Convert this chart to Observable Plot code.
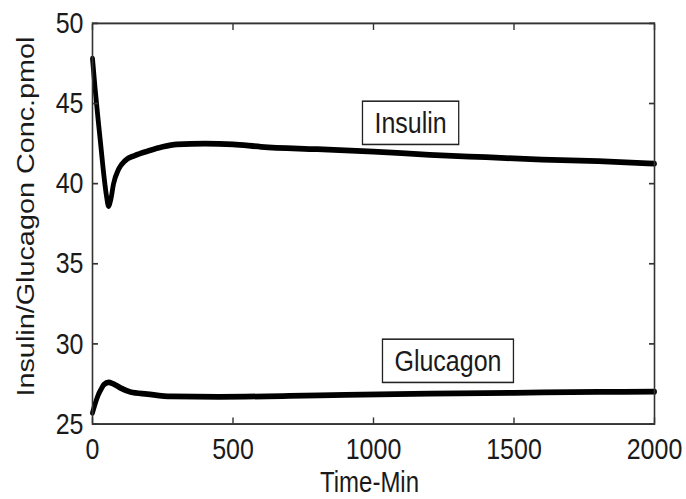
<!DOCTYPE html>
<html>
<head>
<meta charset="utf-8">
<script src="https://cdn.jsdelivr.net/npm/d3@7"></script>
<script src="https://cdn.jsdelivr.net/npm/@observablehq/plot@0.6"></script>
<style>
  html, body { margin: 0; padding: 0; background: #fff; }
  #chart { width: 686px; height: 499px; overflow: hidden; }
</style>
</head>
<body>
<div id="chart"></div>
<script>
// ---- data ----
const insulinTime = [0, 10, 20, 30, 40, 50, 57, 65, 75, 93, 117, 150, 200, 250, 300, 400, 500, 600, 800, 1000, 1200, 1400, 1600, 1800, 2000];
const insulinConc = [47.8, 45.8, 44.0, 42.3, 40.6, 39.2, 38.6, 39.0, 40.0, 40.9, 41.45, 41.75, 42.05, 42.3, 42.45, 42.5, 42.45, 42.3, 42.15, 42.0, 41.8, 41.65, 41.5, 41.4, 41.25];

const glucagonTime = [0, 10, 20, 30, 40, 57, 75, 100, 135, 195, 280, 450, 700, 900, 1200, 1500, 1800, 2000];
const glucagonConc = [25.7, 26.3, 26.8, 27.15, 27.45, 27.6, 27.5, 27.25, 27.0, 26.87, 26.72, 26.7, 26.75, 26.82, 26.9, 26.95, 27.0, 27.02];

const xTicks = [0, 500, 1000, 1500, 2000];
const yTicks = [25, 30, 35, 40, 45, 50];

const labelNames = ["Insulin", "Glucagon"];
const labelTime = [1132, 1265];
const labelConc = [43.75, 28.9];

const xLabel = "Time-Min";
const yLabel = "Insulin/Glucagon Conc.pmol";

// ---- tables ----
const insulinData = insulinTime.map((t, i) => ({t, v: insulinConc[i]}));
const glucagonData = glucagonTime.map((t, i) => ({t, v: glucagonConc[i]}));
const annotations = labelNames.map((name, i) => ({name, t: labelTime[i], v: labelConc[i]}));

// the reference is vertically stretched by ~1.2; draw at 416 and stretch to 499
const W = 686, H = 416, OUT_H = 499;
const font = "'Liberation Sans', Arial, Helvetica, sans-serif";

const svg = Plot.plot({
  width: W,
  height: H,
  marginLeft: 92,
  marginRight: 32,
  marginTop: 19,
  marginBottom: 63,
  x: {domain: [0, 2000]},
  y: {domain: [25, 50]},
  style: {fontFamily: font, fontSize: "25px", color: "#1a1a1a", background: "#fff"},
  marks: [
    Plot.line(insulinData, {x: "t", y: "v", stroke: "#000", strokeWidth: 4.8, curve: "monotone-x"}),
    Plot.line(glucagonData, {x: "t", y: "v", stroke: "#000", strokeWidth: 4.8, curve: "monotone-x"}),
    Plot.frame({stroke: "#333", strokeWidth: 1.6}),
    Plot.axisX(xTicks, {anchor: "bottom", tickSize: -5, tickPadding: 16, tickFormat: d => String(d), label: null, fontSize: 25, stroke: "#333", strokeWidth: 1.4}),
    Plot.axisX(xTicks, {anchor: "top", tickSize: -5, tickFormat: () => null, label: null, stroke: "#333", strokeWidth: 1.4}),
    Plot.axisY(yTicks, {anchor: "left", tickSize: -6, tickPadding: 15, tickFormat: d => String(d), label: null, fontSize: 25, stroke: "#333", strokeWidth: 1.4}),
    Plot.axisY(yTicks, {anchor: "right", tickSize: -6, tickFormat: () => null, label: null, stroke: "#333", strokeWidth: 1.4}),
    Plot.text([xLabel], {text: d => d, frameAnchor: "bottom", textAnchor: "middle", lineAnchor: "top", dy: 40, dx: -4, fontSize: 24, fill: "#1a1a1a"}),
    Plot.text([yLabel], {text: d => d, frameAnchor: "left", textAnchor: "middle", rotate: -90, dx: -66, dy: -6, fontSize: 24, fill: "#1a1a1a"}),
    Plot.text(annotations, {x: "t", y: "v", text: "name", fontSize: 25, fill: "#1a1a1a"})
  ]
});

svg.setAttribute("viewBox", `0 0 ${W} ${H}`);
svg.setAttribute("width", W);
svg.setAttribute("height", OUT_H);
svg.setAttribute("preserveAspectRatio", "none");
svg.style.width = W + "px";
svg.style.height = OUT_H + "px";
svg.style.maxWidth = "none";
document.getElementById("chart").append(svg);

// boxes around the series labels (MATLAB-style text boxes)
const ns = "http://www.w3.org/2000/svg";
d3.select(svg).selectAll("text")
  .filter(function () { return labelNames.includes(this.textContent); })
  .each(function () {
    const b = this.getBBox();
    const padX = 12, padY = 4;
    const r = document.createElementNS(ns, "rect");
    r.setAttribute("x", b.x - padX);
    r.setAttribute("y", b.y - padY);
    r.setAttribute("width", b.width + 2 * padX);
    r.setAttribute("height", b.height + 2 * padY);
    r.setAttribute("fill", "none");
    r.setAttribute("stroke", "#222");
    r.setAttribute("stroke-width", "1.3");
    const tr = this.getAttribute("transform");
    if (tr) r.setAttribute("transform", tr);
    this.parentNode.insertBefore(r, this);
  });
</script>
</body>
</html>
